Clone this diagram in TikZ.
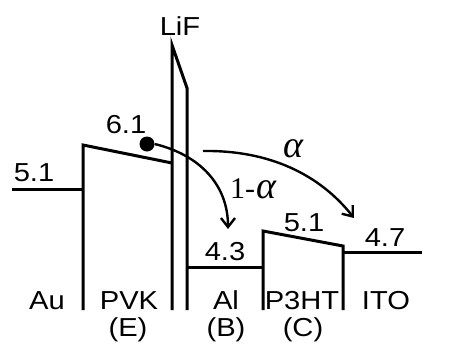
\documentclass[tikz,border=0pt]{standalone}
\usepackage{fontspec}
\setmainfont{Liberation Sans}[FakeStretch=1.12]
\newfontfamily\seriffont{Liberation Serif}
\usetikzlibrary{arrows.meta}
\begin{document}
\begin{tikzpicture}[x=1pt,y=-1pt,
  band/.style={line width=3pt,line join=miter},
  lbl/.style={font=\fontsize{26}{26}\selectfont,anchor=base,inner sep=0pt},
  greek/.style={font=\fontsize{30}{30}\seriffont,anchor=base,inner sep=0pt},
  flow/.style={line width=2.4pt,-{Straight Barb[length=9pt,width=14pt,line width=2.4pt]}}]
\useasboundingbox (0,0) rectangle (475,349);
% Au level
\draw[band] (12,189) -- (83,189);
% PVK
\draw[band] (83,310) -- (83,145) -- (172,163);
% LiF
\draw[band] (172,310) -- (172,45) -- (187,88) -- (187,310);
% Al
\draw[band] (187,267) -- (263,267);
% P3HT
\draw[band] (263,310) -- (263,231) -- (343,246) -- (343,310);
% ITO
\draw[band] (343,252) -- (422,252);
% electron
\node[circle,fill=black,minimum size=15pt,inner sep=0pt] (e) at (147,144) {};
\coordinate (eB) at (228,229);
\coordinate (aS) at (203,151);
\coordinate (eC) at (354,218);
\draw[flow] (e.east) .. controls (200,155) and (228,185) .. (eB);
\draw[flow] (aS) .. controls (270,150) and (320,175) .. (eC);
% labels
\node[lbl] (lif) at (180,35) {LiF};
\node[lbl] (v61) at (126,133) {6.1};
\node[lbl] (v51a) at (34,181) {5.1};
\node[lbl] (v43) at (225,260) {4.3};
\node[lbl] (v51b) at (304,231) {5.1};
\node[lbl] (v47) at (385,246) {4.7};
\node[lbl] (au) at (47,309) {Au};
\node[lbl] (pvk) at (129,309) {PVK};
\node[lbl] (al) at (226,309) {Al};
\node[lbl] (p3ht) at (302,309) {P3HT};
\node[lbl] (ito) at (386,309) {ITO};
\node[lbl] (E) at (128,336) {(E)};
\node[lbl] (B) at (226,336) {(B)};
\node[lbl] (C) at (303,336) {(C)};
\node[greek] (al1) at (293,157) {\fontsize{38}{38}\selectfont\itshape α};
\node[greek] (al2) at (253,198) {1-\kern1pt{\fontsize{38}{38}\selectfont\itshape α}};
\end{tikzpicture}
\end{document}
